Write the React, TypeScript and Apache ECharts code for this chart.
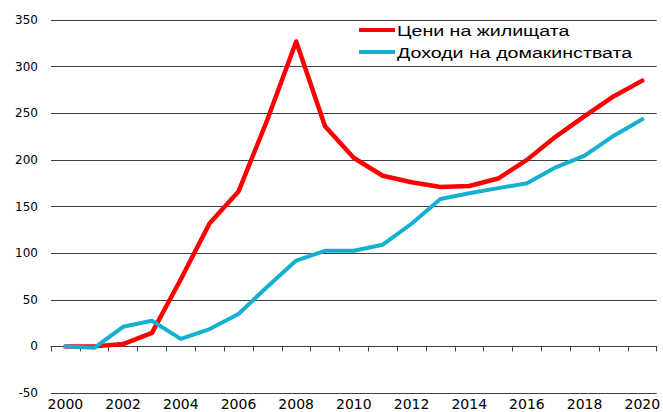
import React, { useEffect, useRef } from "react";
import * as echarts from "echarts";

const years: string[] = [
  "2000", "2001", "2002", "2003", "2004", "2005", "2006", "2007", "2008", "2009", "2010",
  "2011", "2012", "2013", "2014", "2015", "2016", "2017", "2018", "2019", "2020",
];
const housePrices: number[] = [
  0, 0, 2.5, 14.5, 72, 132, 166, 243, 327, 236, 202,
  183, 176, 171, 172, 180, 200, 225, 247, 268, 285,
];
const householdIncomes: number[] = [
  0, -1.5, 21, 27.5, 8, 18.6, 34.7, 64, 92, 102.5, 102.5,
  109, 131.5, 158, 164.3, 169.7, 175, 192, 204.6, 225.7, 243.6,
];
const seriesNames: string[] = ["Цени на жилищата", "Доходи на домакинствата"];
const seriesColors: string[] = ["#ff0000", "#14b1cf"];

export default function App() {
  const ref = useRef<HTMLDivElement>(null);
  useEffect(() => {
    if (!ref.current) return;
    const chart = echarts.init(ref.current, null, { renderer: "svg" });
    const legendRows = seriesNames.map((name, i) => ({
      type: "group",
      x: 359,
      y: 30 + i * 22,
      children: [
        {
          type: "line",
          shape: { x1: 0, y1: 0, x2: 36, y2: 0 },
          style: { stroke: seriesColors[i], lineWidth: 4 },
        },
        {
          type: "text",
          x: 38,
          y: 1,
          scaleX: 1.4,
          style: {
            text: name,
            fill: "#000",
            font: '14px "Liberation Sans", Arial, sans-serif',
            textVerticalAlign: "middle",
          },
        },
      ],
    }));
    chart.setOption({
      animation: false,
      backgroundColor: "#ffffff",
      grid: { left: 51, right: 1, top: 20, bottom: 19, containLabel: false },
      xAxis: [
        {
          type: "category",
          data: years,
          position: "bottom",
          boundaryGap: true,
          axisLine: { show: false, onZero: false },
          axisTick: { show: false },
          splitLine: { show: false },
          axisLabel: {
            interval: 1,
            color: "#000",
            fontSize: 14,
            fontFamily: "DejaVu Sans",
            margin: 4,
          },
        },
        {
          type: "category",
          data: years,
          position: "bottom",
          boundaryGap: true,
          axisLine: { show: true, onZero: true, lineStyle: { color: "#404040", width: 1 } },
          axisTick: { show: true, interval: 0, length: 5, lineStyle: { color: "#404040", width: 1 } },
          axisLabel: { show: false },
          splitLine: { show: false },
        },
      ],
      yAxis: {
        type: "value",
        min: -50,
        max: 350,
        interval: 50,
        axisLine: { show: false },
        axisTick: { show: false },
        splitLine: { show: true, lineStyle: { color: "#404040", width: 1 } },
        axisLabel: {
          color: "#000",
          fontSize: 12,
          fontFamily: "DejaVu Sans",
          margin: 13,
        },
      },
      series: [
        {
          name: seriesNames[0],
          type: "line",
          data: housePrices,
          xAxisIndex: 0,
          symbol: "none",
          lineStyle: { color: seriesColors[0], width: 4.5, cap: "round", join: "round" },
          itemStyle: { color: seriesColors[0] },
          z: 3,
        },
        {
          name: seriesNames[1],
          type: "line",
          data: householdIncomes,
          xAxisIndex: 0,
          symbol: "none",
          lineStyle: { color: seriesColors[1], width: 4, cap: "round", join: "round" },
          itemStyle: { color: seriesColors[1] },
          z: 3,
        },
      ],
      graphic: legendRows,
    });
    return () => chart.dispose();
  }, []);
  return (
    <div
      ref={ref}
      style={{ position: "absolute", left: 0, top: 0, width: 663, height: 412 }}
    />
  );
}
